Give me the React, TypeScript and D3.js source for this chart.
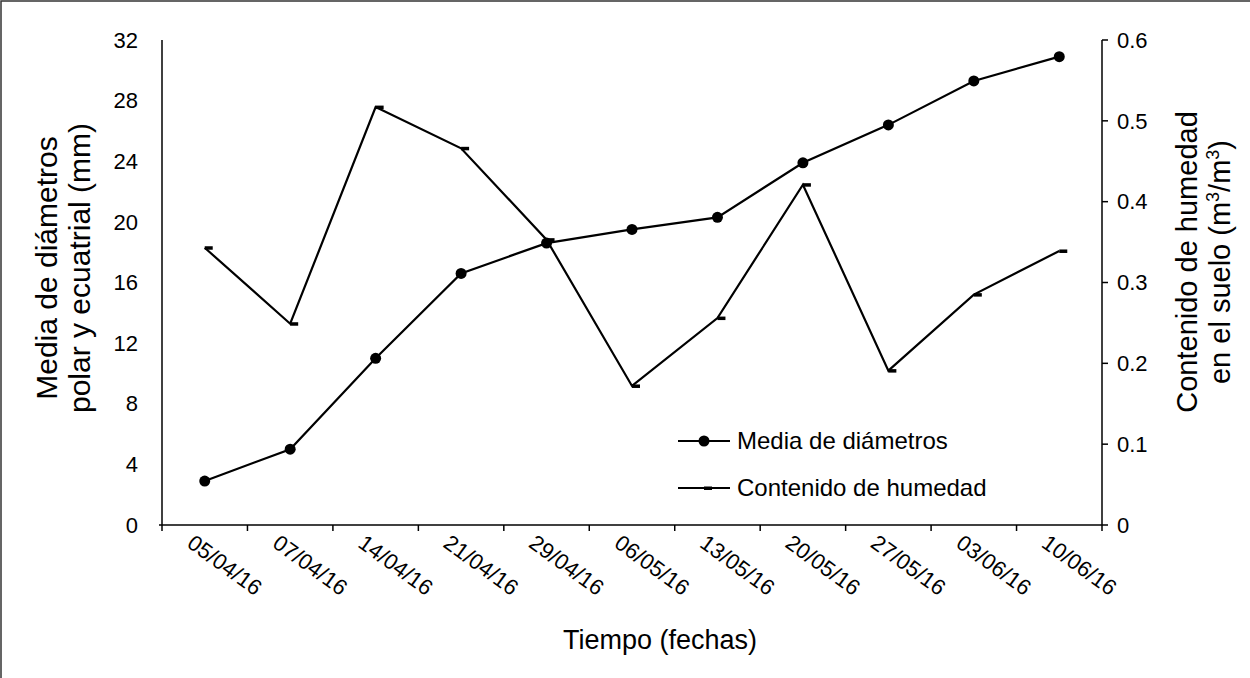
import React from "react";
import * as d3 from "d3";

const dates = ["05/04/16","07/04/16","14/04/16","21/04/16","29/04/16","06/05/16","13/05/16","20/05/16","27/05/16","03/06/16","10/06/16"];
const diametros = [2.9, 5.0, 11.0, 16.6, 18.6, 19.5, 20.3, 23.9, 26.4, 29.3, 30.9];
const humedad = [0.343, 0.249, 0.517, 0.466, 0.353, 0.172, 0.256, 0.421, 0.191, 0.285, 0.339];
const leftTicks = [0, 4, 8, 12, 16, 20, 24, 28, 32];
const rightTicks = [0, 0.1, 0.2, 0.3, 0.4, 0.5, 0.6];

const W = 1250, H = 678;
const X0 = 162, X1 = 1102, Y0 = 525, Y1 = 40;
const FONT = "'Liberation Sans', Arial, sans-serif";

export default function App() {
  const x = d3.scaleBand<string>().domain(dates).range([X0, X1]).paddingInner(0).paddingOuter(0);
  const cx = (d: string) => (x(d) as number) + x.bandwidth() / 2;
  const yL = d3.scaleLinear().domain([0, 32]).range([Y0, Y1]);
  const yR = d3.scaleLinear().domain([0, 0.6]).range([Y0, Y1]);

  const lineL = d3.line<number>().x((_, i) => cx(dates[i])).y((v) => yL(v));
  const lineR = d3.line<number>().x((_, i) => cx(dates[i])).y((v) => yR(v));

  const boundaries = [...dates.map((d) => x(d) as number), X1];

  return (
    <svg width={W} height={H} style={{ position: "absolute", left: 0, top: 0, background: "#fff" }} fontFamily={FONT}>
      <rect x={1} y={1} width={W + 10} height={H + 10} fill="#fff" stroke="#333" strokeWidth={1.5} />
      {/* axes */}
      <line x1={X0} x2={X0} y1={Y1} y2={Y0} stroke="#000" strokeWidth={1.5} />
      <line x1={X0 - 3} x2={X1} y1={Y0} y2={Y0} stroke="#000" strokeWidth={1.5} />
      <line x1={X1} x2={X1} y1={Y1} y2={Y0} stroke="#000" strokeWidth={1.5} />
      {boundaries.map((b, i) => (
        <line key={"xt" + i} x1={b} x2={b} y1={Y0} y2={Y0 + 6} stroke="#000" strokeWidth={1.5} />
      ))}
      {rightTicks.map((t) => (
        <line key={"rt" + t} x1={X1} x2={X1 + 6} y1={yR(t)} y2={yR(t)} stroke="#000" strokeWidth={1.5} />
      ))}
      {leftTicks.map((t) => (
        <text key={"lt" + t} x={X0 - 24} y={yL(t)} dy="0.35em" textAnchor="end" fontSize={22}>{t}</text>
      ))}
      {rightTicks.map((t) => (
        <text key={"rl" + t} x={X1 + 15} y={yR(t)} dy="0.35em" textAnchor="start" fontSize={22}>{t === 0 ? "0" : t.toFixed(1)}</text>
      ))}
      {dates.map((d) => (
        <text key={"xl" + d} transform={`translate(${cx(d) - 19},${Y0 + 21}) rotate(36)`} fontSize={22}>{d}</text>
      ))}
      {/* axis titles */}
      <text x={660} y={649} textAnchor="middle" fontSize={27}>Tiempo (fechas)</text>
      <text transform={`translate(57,268) rotate(-90)`} textAnchor="middle" fontSize={30}>Media de diámetros</text>
      <text transform={`translate(90,268) rotate(-90)`} textAnchor="middle" fontSize={30}>polar y ecuatrial (mm)</text>
      <text transform={`translate(1197,262) rotate(-90)`} textAnchor="middle" fontSize={29}>Contenido de humedad</text>
      <text transform={`translate(1230,262) rotate(-90)`} textAnchor="middle" fontSize={29}>
        en el suelo (m<tspan fontSize={18} dy={-11}>3</tspan><tspan dy={11}>/m</tspan><tspan fontSize={18} dy={-11}>3</tspan><tspan dy={11}>)</tspan>
      </text>
      {/* series */}
      <path d={lineR(humedad) || ""} fill="none" stroke="#000" strokeWidth={2.2} strokeLinejoin="miter" />
      {humedad.map((v, i) => (
        <rect key={"hm" + i} x={cx(dates[i])} y={yR(v) - 1.5} width={8} height={3.5} fill="#000" />
      ))}
      <path d={lineL(diametros) || ""} fill="none" stroke="#000" strokeWidth={2.2} />
      {diametros.map((v, i) => (
        <circle key={"dm" + i} cx={cx(dates[i])} cy={yL(v)} r={5.5} fill="#000" />
      ))}
      {/* legend */}
      <line x1={678} x2={730} y1={441} y2={441} stroke="#000" strokeWidth={2.2} />
      <circle cx={704} cy={441} r={5.5} fill="#000" />
      <text x={737} y={441} dy="0.35em" fontSize={24}>Media de diámetros</text>
      <line x1={678} x2={730} y1={488} y2={488} stroke="#000" strokeWidth={2.2} />
      <rect x={704} y={486.5} width={8} height={3.5} fill="#000" />
      <text x={737} y={488} dy="0.35em" fontSize={24}>Contenido de humedad</text>
    </svg>
  );
}
